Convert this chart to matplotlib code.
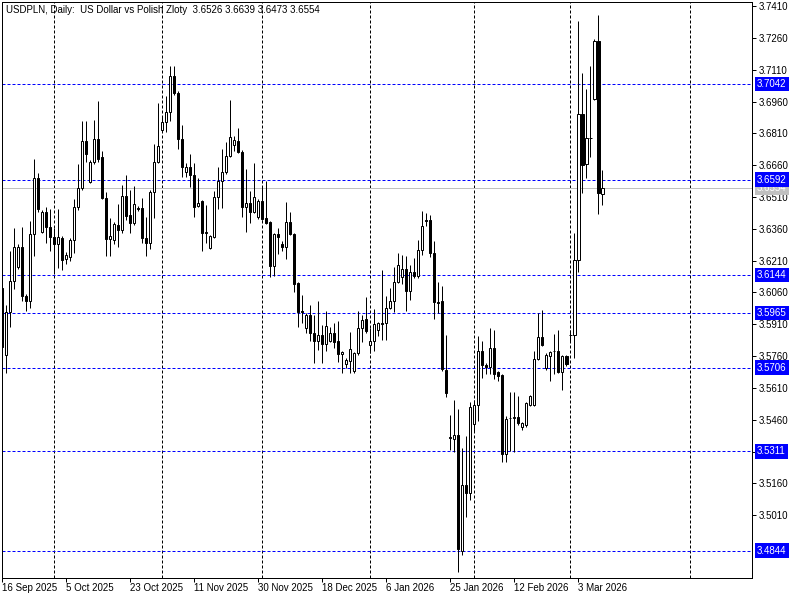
import numpy as np
import matplotlib
matplotlib.use("Agg")
import matplotlib.pyplot as plt
from matplotlib.transforms import blended_transform_factory

# daily bars USDPLN, 16 Sep 2025 .. 10 Mar 2026
opens = [
    3.6081, 3.5766, 3.5968, 3.6114, 3.6180, 3.6275, 3.6044, 3.6020, 3.6336, 3.6599,
    3.6345, 3.6439, 3.6369, 3.6322, 3.6289, 3.6317, 3.6218, 3.6227, 3.6307, 3.6463,
    3.6552, 3.6774, 3.6581, 3.6675, 3.6783, 3.6698, 3.6505, 3.6312, 3.6307, 3.6378,
    3.6355, 3.6515, 3.6425, 3.6388, 3.6458, 3.6458, 3.6317, 3.6293, 3.6533, 3.6675,
    3.6826, 3.6863, 3.6910, 3.7080, 3.7000, 3.6783, 3.6628, 3.6651, 3.6614, 3.6468,
    3.6491, 3.6340, 3.6270, 3.6322, 3.6510, 3.6585, 3.6628, 3.6703, 3.6755, 3.6774,
    3.6722, 3.6463, 3.6482, 3.6439, 3.6416, 3.6491, 3.6411, 3.6392, 3.6185, 3.6336,
    3.6289, 3.6275, 3.6392, 3.6336, 3.6105, 3.5973, 3.5893, 3.5954, 3.5869, 3.5832,
    3.5860, 3.5818, 3.5832, 3.5869, 3.5832, 3.5771, 3.5723, 3.5738, 3.5690, 3.5775,
    3.5893, 3.5935, 3.5813, 3.5832, 3.5884, 3.5917, 3.5917, 3.5987, 3.6020, 3.6110,
    3.6133, 3.6171, 3.6067, 3.6157, 3.6138, 3.6260, 3.6402, 3.6402, 3.6246, 3.6015,
    3.6020, 3.5695, 3.5379, 3.5369, 3.5388, 3.4842, 3.5152, 3.5115, 3.5440, 3.5529,
    3.5785, 3.5719, 3.5709, 3.5799, 3.5686, 3.5672, 3.5299, 3.5468, 3.5468, 3.5473,
    3.5426, 3.5435, 3.5529, 3.5529, 3.5747, 3.5851, 3.5705, 3.5761, 3.5785, 3.5785,
    3.5686, 3.5761, 3.5860, 3.5860, 3.6213, 3.6901, 3.6665, 3.6788, 3.6971, 3.7245,
    3.6526,
]
highs = [
    3.6086, 3.6001, 3.6256, 3.6364, 3.6289, 3.6369, 3.6053, 3.6397, 3.6689, 3.6623,
    3.6449, 3.6463, 3.6454, 3.6364, 3.6454, 3.6326, 3.6251, 3.6317, 3.6500, 3.6665,
    3.6868, 3.6868, 3.6684, 3.6873, 3.6962, 3.6727, 3.6533, 3.6411, 3.6392, 3.6477,
    3.6566, 3.6614, 3.6543, 3.6562, 3.6468, 3.6505, 3.6416, 3.6543, 3.6760, 3.6953,
    3.6887, 3.6986, 3.7127, 3.7127, 3.7009, 3.6849, 3.6670, 3.6713, 3.6670, 3.6599,
    3.6496, 3.6472, 3.6331, 3.6538, 3.6651, 3.6736, 3.6769, 3.6967, 3.6797, 3.6835,
    3.6731, 3.6642, 3.6538, 3.6670, 3.6500, 3.6557, 3.6585, 3.6397, 3.6340, 3.6364,
    3.6303, 3.6487, 3.6439, 3.6340, 3.6110, 3.6048, 3.5964, 3.6001, 3.5954, 3.6020,
    3.5907, 3.5973, 3.5898, 3.5917, 3.5926, 3.5785, 3.5752, 3.5874, 3.5780, 3.5973,
    3.5954, 3.6039, 3.5893, 3.5983, 3.5921, 3.6166, 3.6044, 3.6081, 3.6180, 3.6246,
    3.6237, 3.6232, 3.6190, 3.6223, 3.6307, 3.6444, 3.6435, 3.6425, 3.6303, 3.6110,
    3.6091, 3.5860, 3.5482, 3.5553, 3.5511, 3.5327, 3.5383, 3.5544, 3.5553, 3.5855,
    3.5832, 3.5728, 3.5893, 3.5884, 3.5690, 3.5676, 3.5478, 3.5591, 3.5591, 3.5573,
    3.5449, 3.5544, 3.5577, 3.5785, 3.5964, 3.5978, 3.5775, 3.5785, 3.5865, 3.5884,
    3.5766, 3.5766, 3.5884, 3.6340, 3.7339, 3.7094, 3.7019, 3.7127, 3.7254, 3.7367,
    3.6639,
]
lows = [
    3.5799, 3.5681, 3.5898, 3.6077, 3.6171, 3.6020, 3.5973, 3.5987, 3.6232, 3.6439,
    3.6340, 3.6293, 3.6256, 3.6147, 3.6176, 3.6166, 3.6194, 3.6209, 3.6246, 3.6449,
    3.6543, 3.6675, 3.6576, 3.6665, 3.6675, 3.6500, 3.6232, 3.6232, 3.6289, 3.6275,
    3.6340, 3.6402, 3.6340, 3.6378, 3.6444, 3.6293, 3.6232, 3.6265, 3.6411, 3.6670,
    3.6816, 3.6816, 3.6868, 3.6990, 3.6736, 3.6604, 3.6604, 3.6557, 3.6416, 3.6463,
    3.6256, 3.6293, 3.6265, 3.6317, 3.6454, 3.6458, 3.6618, 3.6698, 3.6727, 3.6717,
    3.6416, 3.6345, 3.6388, 3.6435, 3.6406, 3.6402, 3.6383, 3.6133, 3.6138, 3.6242,
    3.6256, 3.6218, 3.6331, 3.6062, 3.5898, 3.5917, 3.5869, 3.5832, 3.5728, 3.5789,
    3.5728, 3.5785, 3.5827, 3.5799, 3.5733, 3.5681, 3.5705, 3.5681, 3.5681, 3.5766,
    3.5827, 3.5869, 3.5775, 3.5785, 3.5855, 3.5836, 3.5836, 3.5983, 3.5968, 3.6105,
    3.6100, 3.5973, 3.6025, 3.6128, 3.6128, 3.6237, 3.6373, 3.6227, 3.5935, 3.5964,
    3.5690, 3.5568, 3.5317, 3.5308, 3.4743, 3.4823, 3.5002, 3.5082, 3.5402, 3.5454,
    3.5657, 3.5676, 3.5676, 3.5653, 3.5643, 3.5261, 3.5261, 3.5313, 3.5308, 3.5435,
    3.5412, 3.5426, 3.5525, 3.5525, 3.5742, 3.5808, 3.5695, 3.5643, 3.5676, 3.5681,
    3.5601, 3.5714, 3.5827, 3.5752, 3.6157, 3.6529, 3.6599, 3.6698, 3.6967, 3.6430,
    3.6473,
]
closes = [
    3.5804, 3.5968, 3.6114, 3.6275, 3.6275, 3.6044, 3.6020, 3.6336, 3.6599, 3.6454,
    3.6439, 3.6369, 3.6322, 3.6289, 3.6322, 3.6213, 3.6237, 3.6307, 3.6463, 3.6552,
    3.6774, 3.6713, 3.6675, 3.6783, 3.6689, 3.6505, 3.6312, 3.6326, 3.6383, 3.6355,
    3.6515, 3.6421, 3.6388, 3.6477, 3.6454, 3.6317, 3.6293, 3.6533, 3.6675, 3.6750,
    3.6863, 3.6910, 3.7080, 3.7000, 3.6783, 3.6651, 3.6651, 3.6614, 3.6463, 3.6482,
    3.6340, 3.6345, 3.6326, 3.6510, 3.6585, 3.6628, 3.6703, 3.6793, 3.6778, 3.6722,
    3.6463, 3.6482, 3.6439, 3.6510, 3.6491, 3.6406, 3.6388, 3.6185, 3.6336, 3.6322,
    3.6275, 3.6392, 3.6336, 3.6100, 3.5968, 3.5968, 3.5954, 3.5869, 3.5832, 3.5860,
    3.5818, 3.5902, 3.5869, 3.5827, 3.5771, 3.5780, 3.5742, 3.5794, 3.5775, 3.5893,
    3.5931, 3.5879, 3.5832, 3.5912, 3.5917, 3.5912, 3.5987, 3.6020, 3.6110, 3.6190,
    3.6171, 3.6067, 3.6157, 3.6138, 3.6260, 3.6373, 3.6397, 3.6246, 3.6015, 3.6011,
    3.5700, 3.5587, 3.5374, 3.5388, 3.4851, 3.5152, 3.5115, 3.5520, 3.5529, 3.5785,
    3.5719, 3.5709, 3.5799, 3.5676, 3.5667, 3.5299, 3.5463, 3.5468, 3.5473, 3.5445,
    3.5445, 3.5539, 3.5573, 3.5747, 3.5851, 3.5813, 3.5766, 3.5780, 3.5785, 3.5686,
    3.5761, 3.5723, 3.5860, 3.6213, 3.6901, 3.6661, 3.6788, 3.6788, 3.7245, 3.6529,
    3.6554,
]

date_labels = ["16 Sep 2025", "5 Oct 2025", "23 Oct 2025", "11 Nov 2025", "30 Nov 2025",
               "18 Dec 2025", "6 Jan 2026", "25 Jan 2026", "12 Feb 2026", "3 Mar 2026"]
date_bars = [0, 16, 32, 48, 64, 80, 96, 112, 128, 144]
month_bars = [13, 40, 65, 92, 118, 142, 172]   # first bar of each month (grid)
levels = [3.7042, 3.6592, 3.6144, 3.5965, 3.5706, 3.5311, 3.4844]
price_ticks = [3.5010, 3.5160, 3.5310, 3.5460, 3.5610, 3.5760, 3.5910, 3.6060, 3.6210,
               3.6360, 3.6510, 3.6660, 3.6810, 3.6960, 3.7110, 3.7260, 3.7410]

o = np.array(opens); h = np.array(highs); l = np.array(lows); c = np.array(closes)
idx = np.arange(len(c))
up = c >= o

FONT = "Liberation Sans"
FS = 7.0
px = 0.72  # one pixel in points

fig = plt.figure(figsize=(8, 6), dpi=100)
ax = fig.add_axes([2 / 800, 22 / 600, 750 / 800, 576 / 600])
ax.set_xlim(-0.08, 187.4)
ax.set_ylim(3.47145, 3.74289)

dash = (0, (3, 2))
for b in month_bars:
    ax.axvline(b, color="black", lw=px, ls=dash, zorder=1)
for lv in levels:
    ax.axhline(lv, color="#0000ff", lw=px, ls=dash, zorder=1)
ax.axhline(c[-1], color="#c0c0c0", lw=px, zorder=1)

# candles: white = up day, black = down day
ax.vlines(idx, l, h, color="black", lw=px, zorder=2)
ax.bar(idx[up], (c - o)[up], bottom=o[up], width=0.56, color="white",
       edgecolor="black", linewidth=px, zorder=3)
ax.bar(idx[~up], (c - o)[~up], bottom=o[~up], width=0.56, color="black",
       edgecolor="black", linewidth=px, zorder=3)

for s in ax.spines.values():
    s.set_linewidth(px)
    s.set_color("black")

ax.set_xticks(date_bars)
ax.set_xticklabels(date_labels, ha="left", fontsize=FS, family=FONT)
ax.tick_params(axis="x", direction="out", length=4 * px, width=px, pad=1)

# the 3.5310 label sits under the 3.5311 level box in the original
ax.yaxis.tick_right()
ax.set_yticks(price_ticks)
ax.set_yticklabels(["" if abs(v - 3.5310) < 1e-6 else f"{v:.4f}" for v in price_ticks],
                   fontsize=FS, family=FONT)
ax.tick_params(axis="y", direction="out", length=4 * px, width=px, pad=2)

tr = blended_transform_factory(ax.transAxes, ax.transData)
xoff = 1 + 5 / 750
ax.text(xoff, c[-1], f"{c[-1]:.4f}", transform=tr, ha="left", va="center",
        fontsize=FS, family=FONT, color="white", clip_on=False, zorder=5,
        bbox=dict(boxstyle="square,pad=0.22", fc="#c0c0c0", ec="none"))
for lv in levels:
    ax.text(xoff, lv, f"{lv:.4f}", transform=tr, ha="left", va="center",
            fontsize=FS, family=FONT, color="white", clip_on=False, zorder=6,
            bbox=dict(boxstyle="square,pad=0.22", fc="#0000ff", ec="none"))

ax.text(4 / 750, 1 - 8 / 576,
        "USDPLN, Daily:  US Dollar vs Polish Zloty  3.6526 3.6639 3.6473 3.6554",
        transform=ax.transAxes, ha="left", va="center", fontsize=FS, family=FONT,
        color="black")

fig.savefig("out.png", dpi=100, facecolor="white")
